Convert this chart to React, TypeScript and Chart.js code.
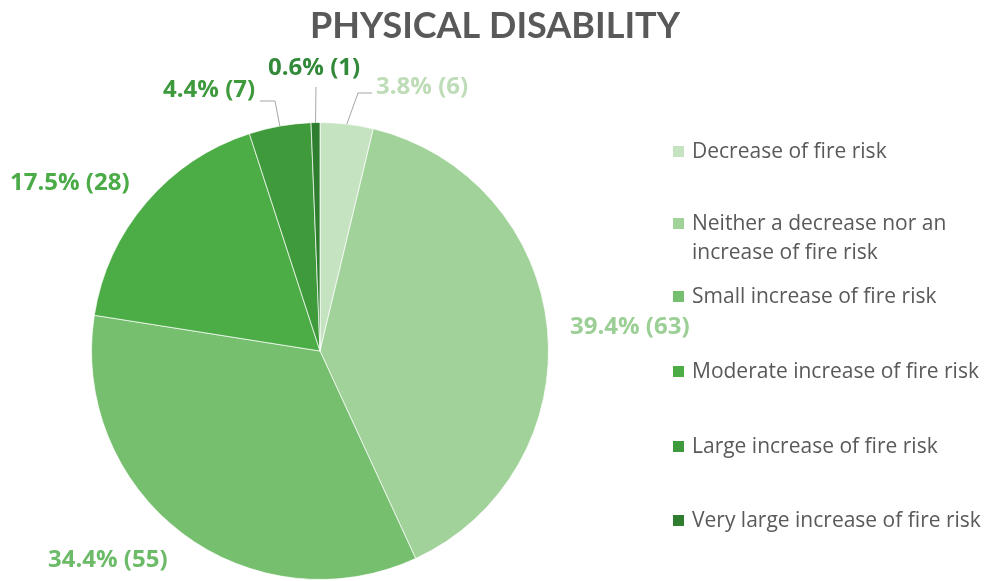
import React, { useEffect, useRef } from "react";
import { Chart, registerables } from "chart.js";

Chart.register(...registerables);

const categories = [
  "Decrease of fire risk",
  "Neither a decrease nor an increase of fire risk",
  "Small increase of fire risk",
  "Moderate increase of fire risk",
  "Large increase of fire risk",
  "Very large increase of fire risk",
];
const legendLines = [
  ["Decrease of fire risk"],
  ["Neither a decrease nor an", "increase of fire risk"],
  ["Small increase of fire risk"],
  ["Moderate increase of fire risk"],
  ["Large increase of fire risk"],
  ["Very large increase of fire risk"],
];
const counts = [6, 63, 55, 28, 7, 1];
const title = "PHYSICAL DISABILITY";

const sliceColors = ["#c6e3c1", "#a1d29a", "#76bf6f", "#4cad46", "#3f9a3b", "#2f7e2f"];
const labelColors = ["#bddcb7", "#9ccf95", "#6dbb69", "#4aab47", "#3e9a3c", "#33893a"];

// label layout: text left x, text center y, leader elbow points (optional)
const labelLayout = [
  { x: 376, y: 87, leader: [[358, 93], [372, 93]] },
  { x: 570, y: 327, leader: null },
  { x: 48, y: 560, leader: null },
  { x: 10, y: 183, leader: null },
  { x: 163, y: 90, leader: [[275, 101], [260, 101]] },
  { x: 268, y: 68, leader: [[316, 87]] },
];
const legendY = [[152], [224, 253], [297], [372], [447], [521]];

const TITLE_FONT = "Lato, 'Open Sans', sans-serif";
const FONT = "'Open Sans', Lato, sans-serif";

const overlayPlugin = {
  id: "overlay",
  afterDraw(chart: any) {
    const ctx = chart.ctx;
    const meta = chart.getDatasetMeta(0);
    const total = counts.reduce((a, b) => a + b, 0);
    ctx.save();
    // title
    ctx.fillStyle = "#595959";
    ctx.font = `bold 36px ${TITLE_FONT}`;
    ctx.textAlign = "center";
    ctx.textBaseline = "middle";
    ctx.fillText(title, 495, 26);

    // labels + leader lines
    ctx.textAlign = "left";
    ctx.font = `bold 24px ${FONT}`;
    meta.data.forEach((arc: any, i: number) => {
      const lay = labelLayout[i];
      const pct = ((counts[i] / total) * 100).toFixed(1);
      const txt = `${pct}% (${counts[i]})`;
      if (lay.leader) {
        const mid = (arc.startAngle + arc.endAngle) / 2;
        const sx = arc.x + Math.cos(mid) * arc.outerRadius;
        const sy = arc.y + Math.sin(mid) * arc.outerRadius;
        ctx.strokeStyle = "#a6a6a6";
        ctx.lineWidth = 1;
        ctx.beginPath();
        ctx.moveTo(sx, sy);
        lay.leader.forEach((p: number[]) => ctx.lineTo(p[0], p[1]));
        ctx.stroke();
      }
      ctx.fillStyle = labelColors[i];
      ctx.fillText(txt, lay.x, lay.y);
    });

    // legend
    ctx.font = `21px ${FONT}`;
    legendLines.forEach((lines, i) => {
      const ys = legendY[i];
      ctx.fillStyle = sliceColors[i];
      ctx.fillRect(673, ys[0] - 6, 11, 11);
      ctx.fillStyle = "#595959";
      lines.forEach((ln, j) => ctx.fillText(ln, 692, ys[j]));
    });
    ctx.restore();
  },
};

export default function App() {
  const ref = useRef<HTMLCanvasElement>(null);
  useEffect(() => {
    document.body.style.margin = "0";
    const chart = new Chart(ref.current!, {
      type: "pie",
      data: {
        labels: categories,
        datasets: [
          {
            data: counts,
            backgroundColor: sliceColors,
            borderColor: "rgba(255,255,255,0.7)",
            borderWidth: 1,
          },
        ],
      },
      options: {
        animation: false,
        responsive: false,
        layout: { padding: { left: 91, right: 435, top: 122, bottom: 1 } },
        plugins: {
          legend: { display: false },
          tooltip: { enabled: false },
          title: { display: false },
        },
      },
      plugins: [overlayPlugin],
    });
    return () => chart.destroy();
  }, []);
  return (
    <div style={{ width: 984, height: 581, background: "#fff" }}>
      <canvas ref={ref} width={984} height={581} style={{ display: "block" }} />
    </div>
  );
}
